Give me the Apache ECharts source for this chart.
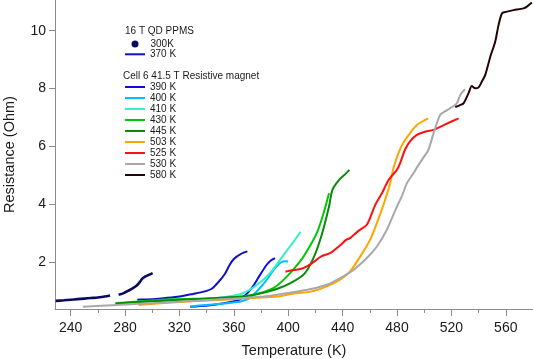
<!DOCTYPE html>
<html><head><meta charset="utf-8">
<script src="https://cdn.jsdelivr.net/npm/echarts@6/dist/echarts.min.js"></script>
<style>html,body{margin:0;padding:0;background:#fff}#c{width:533px;height:359px}</style>
</head><body><div id="c"></div>
<script>
// ---- data (Temperature K, Resistance Ohm); null marks a gap ----
const t300 = [229, 235, 240, 245, 250, 255, 260, 265, 269, 272, 275.3, 279, 282.4, 285.5, 288.6, 291, 292.5, 294.7, 297.5, 300.3];
const r300 = [0.66, 0.68, 0.70, 0.72, 0.74, 0.76, 0.78, 0.81, 0.85, null, 0.87, 0.93, 1.01, 1.09, 1.19, 1.32, 1.42, 1.50, 1.56, 1.62];
const t370 = [289, 295, 300, 310, 320, 330, 338, 344, 349, 353.5, 357, 360, 365, 370];
const r370 = [0.70, 0.71, 0.72, 0.76, 0.81, 0.90, 0.98, 1.09, 1.33, 1.60, 1.91, 2.11, 2.28, 2.37];
const t390 = [328, 335, 342.5, 349, 355, 360, 364, 367, 370, 374.4, 379.3, 384.2, 387, 390.3];
const r390 = [0.46, 0.48, 0.51, 0.55, 0.60, 0.65, 0.70, 0.80, 0.93, 1.18, 1.56, 1.91, 2.05, 2.14];
const t400 = [328, 340, 355, 365, 369, 373, 377, 381, 384.2, 387, 390.3, 394, 397, 400];
const r400 = [0.47, 0.52, 0.58, 0.64, 0.70, 0.80, 1.00, 1.20, 1.39, 1.58, 1.79, 1.97, 2.03, 2.02];
const t410 = [330, 345, 355, 365, 372, 378, 383, 388, 394, 399, 404, 409];
const r410 = [0.68, 0.74, 0.80, 0.90, 1.05, 1.25, 1.45, 1.70, 2.08, 2.40, 2.71, 3.05];
const t430 = [273, 290, 306, 330, 355, 374, 389, 399, 409, 415, 421, 426, 430];
const r430 = [0.58, 0.64, 0.70, 0.73, 0.76, 0.87, 1.10, 1.50, 2.04, 2.48, 3.00, 3.69, 4.38];
const t445 = [273, 290, 306, 330, 367, 380, 392, 402, 412, 419, 425, 430, 432.5, 437.4, 441, 445];
const r445 = [0.57, 0.62, 0.66, 0.72, 0.81, 0.92, 1.08, 1.28, 1.60, 2.19, 3.00, 3.92, 4.50, 4.84, 5.00, 5.19];
const t503 = [290, 320, 360, 380, 394, 402, 416.6, 428.4, 438.2, 445.5, 452.9, 460.2, 465.2, 470, 475, 477.4, 481.1, 485, 489.6, 494.6, 500, 503];
const r503 = [0.52, 0.62, 0.72, 0.78, 0.82, 0.90, 0.98, 1.16, 1.39, 1.68, 2.19, 2.77, 3.35, 3.98, 4.73, 5.25, 5.77, 6.15, 6.46, 6.74, 6.90, 6.97];
const t525 = [398, 404, 409, 414.8, 420, 424, 431.4, 438.7, 442.5, 445.5, 451.6, 457.8, 464, 468.9, 473.8, 479.9, 482.3, 486, 490, 494.6, 500, 506.9, 515, 525.3];
const r525 = [1.67, 1.73, 1.76, 1.88, 2.05, 2.19, 2.33, 2.60, 2.77, 2.83, 3.08, 3.29, 3.98, 4.38, 4.84, 5.19, 5.42, 5.90, 6.20, 6.40, 6.50, 6.57, 6.75, 6.97];
const t530 = [249, 274, 300, 330, 360, 380, 402, 416.6, 428.4, 438.2, 448, 457.8, 465.2, 472.5, 479.9, 483.5, 487.3, 492.1, 495, 499.5, 503.1, 506.9, 511.7, 515, 519.1, 524, 526.5, 530];
const r530 = [0.46, 0.52, 0.58, 0.66, 0.74, 0.80, 0.95, 1.07, 1.22, 1.45, 1.73, 2.14, 2.54, 3.12, 3.92, 4.27, 4.73, 5.07, 5.30, 5.62, 5.88, 6.46, 7.09, 7.20, 7.32, 7.49, 7.78, 7.98];
const t580 = [522.8, 526, 528.9, 532.6, 535, 537.5, 540, 542.5, 544.9, 548.6, 552.2, 554.7, 557.2, 560, 565.7, 573, 576, 579.2];
const r580 = [7.36, 7.42, 7.49, 7.84, 8.09, 8.01, 8.04, 8.25, 8.47, 9.10, 9.62, 10.20, 10.60, 10.65, 10.71, 10.77, 10.85, 10.97];

const seriesNames = ['300K', '370 K', '390 K', '400 K', '410 K', '430 K', '445 K', '503 K', '525 K', '530 K', '580 K'];
const seriesT = [t300, t370, t390, t400, t410, t430, t445, t503, t525, t530, t580];
const seriesR = [r300, r370, r390, r400, r410, r430, r445, r503, r525, r530, r580];
const seriesColors = ['#0a0a60', '#1010c8', '#0a0af0', '#00bfff', '#33f0c8', '#00c800', '#0a8a0a', '#ffa500', '#ff1010', '#a8a8a8', '#220505'];

const xMinorTicks = [240, 260, 280, 300, 320, 340, 360, 380, 400, 420, 440, 460, 480, 500, 520, 540, 560];
const xMajorTicks = [240, 280, 320, 360, 400, 440, 480, 520, 560];
const yTicks = [2, 4, 6, 8, 10];
const ppmsTitle = '16 T QD PPMS';
const cellTitle = 'Cell 6 41.5 T Resistive magnet';

const FONT = '"Liberation Sans", Arial, Helvetica, sans-serif';
const axisGray = '#8c8c8c';

const series = seriesNames.map((n, i) => ({
  name: n,
  type: 'line',
  xAxisIndex: 0,
  yAxisIndex: 0,
  showSymbol: false,
  symbol: 'none',
  smooth: 0.25,
  connectNulls: false,
  color: seriesColors[i],
  lineStyle: { width: i === 0 ? 2.6 : 2, color: seriesColors[i] },
  data: seriesT[i].map((t, k) => [t, seriesR[i][k] === null ? '-' : seriesR[i][k]]),
  z: 2 + i
}));

const chart = echarts.init(document.getElementById('c'), null, { renderer: 'canvas' });
chart.setOption({
  animation: false,
  backgroundColor: '#ffffff',
  textStyle: { fontFamily: FONT },
  grid: { left: 55, right: 0, top: 0, bottom: 50, containLabel: false, outerBoundsMode: 'none' },
  xAxis: [
    {
      type: 'value', min: 228.5, max: 580,
      name: 'Temperature (K)', nameLocation: 'middle', nameGap: 34,
      nameTextStyle: { fontSize: 14.5, color: '#1a1a1a', fontFamily: FONT },
      axisLine: { show: true, lineStyle: { color: axisGray, width: 1 } },
      axisTick: { show: true, length: 4, lineStyle: { color: axisGray }, customValues: xMinorTicks },
      axisLabel: { show: false },
      splitLine: { show: false }
    },
    {
      type: 'value', min: 228.5, max: 580, position: 'bottom', gridIndex: 0,
      axisLine: { show: false },
      axisTick: { show: true, length: 7, lineStyle: { color: axisGray }, customValues: xMajorTicks },
      axisLabel: { show: true, fontSize: 14, color: '#1a1a1a', margin: 12, fontFamily: FONT, customValues: xMajorTicks },
      splitLine: { show: false }
    }
  ],
  yAxis: {
    type: 'value', min: 0.38, max: 11.06,
    name: 'Resistance (Ohm)', nameLocation: 'middle', nameGap: 38,
    nameTextStyle: { fontSize: 14.5, color: '#1a1a1a', fontFamily: FONT },
    axisLine: { show: true, lineStyle: { color: axisGray, width: 1 } },
    axisTick: { show: true, length: 6, lineStyle: { color: axisGray }, customValues: yTicks },
    axisLabel: { show: true, fontSize: 14, color: '#1a1a1a', margin: 9, fontFamily: FONT, customValues: yTicks },
    splitLine: { show: false }
  },
  legend: [
    {
      data: [{ name: '300K', icon: 'circle' }],
      orient: 'vertical', left: 131.5, top: 38.5, padding: 0, itemGap: 0,
      itemWidth: 7, itemHeight: 7, selectedMode: false,
      textStyle: { fontSize: 10, color: '#1a1a1a', lineHeight: 11, fontFamily: FONT, padding: [0, 0, 0, 7] }
    },
    {
      data: [{ name: '370 K', icon: 'rect' }],
      orient: 'vertical', left: 125, top: 48.8, padding: 0, itemGap: 0,
      itemWidth: 20, itemHeight: 2, selectedMode: false,
      textStyle: { fontSize: 10, color: '#1a1a1a', lineHeight: 11, fontFamily: FONT }
    },
    {
      data: seriesNames.slice(2).map(n => ({ name: n, icon: 'rect' })),
      orient: 'vertical', left: 125, top: 81.5, padding: 0, itemGap: 0,
      itemWidth: 20, itemHeight: 2, selectedMode: false,
      textStyle: { fontSize: 10, color: '#1a1a1a', lineHeight: 11, fontFamily: FONT }
    }
  ],
  graphic: [
    { type: 'text', left: 125, top: 26.5, style: { text: ppmsTitle, font: '10px ' + FONT, fill: '#1a1a1a' } },
    { type: 'text', left: 123, top: 71, style: { text: cellTitle, font: '10px ' + FONT, fill: '#1a1a1a' } }
  ],
  series: series
});
</script>
</body></html>
